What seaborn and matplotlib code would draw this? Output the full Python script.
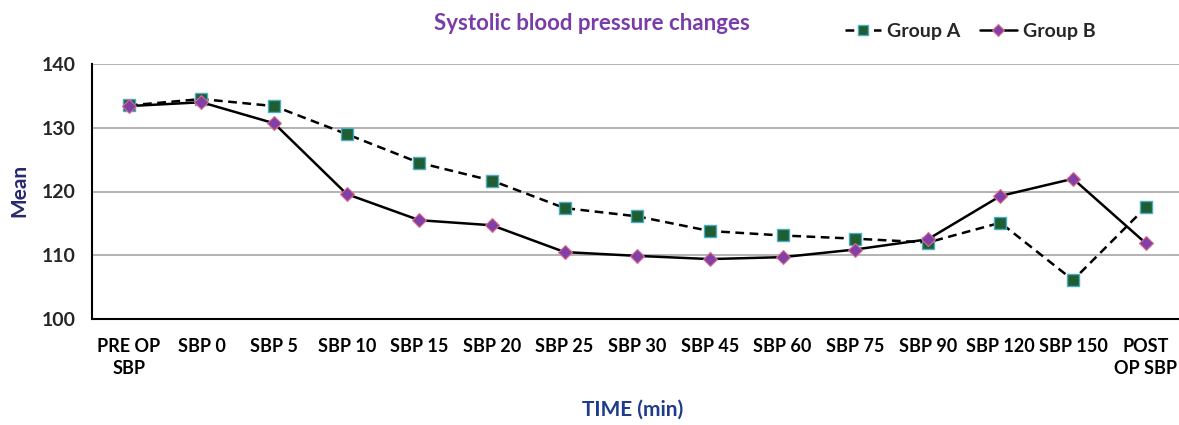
import matplotlib
matplotlib.use("Agg")
import matplotlib.pyplot as plt
from matplotlib.ticker import FixedLocator
import seaborn as sns
import pandas as pd
import numpy as np

categories = ["PRE OP\nSBP", "SBP 0", "SBP 5", "SBP 10", "SBP 15", "SBP 20", "SBP 25",
              "SBP 30", "SBP 45", "SBP 60", "SBP 75", "SBP 90", "SBP 120", "SBP 150",
              "POST\nOP SBP"]
group_a = [133.5, 134.5, 133.4, 129.0, 124.5, 121.7, 117.4, 116.1, 113.8, 113.1,
           112.6, 112.0, 115.1, 106.1, 117.5]
group_b = [133.4, 134.0, 130.7, 119.6, 115.5, 114.7, 110.5, 109.9, 109.4, 109.7,
           110.9, 112.5, 119.3, 122.0, 111.9]

sns.set_theme(style="white")
plt.rcParams['font.family'] = ['Lato', 'DejaVu Sans']
plt.rcParams['font.weight'] = 'bold'

fig = plt.figure(figsize=(11.79, 4.25), dpi=100)
ax = fig.add_axes([92.5/1179, 106/425, (1182-92.5)/1179, 255/425])

idx = np.arange(len(categories))
df = pd.DataFrame({"idx": np.concatenate([idx, idx]),
                   "val": group_a + group_b,
                   "grp": ["Group A"]*len(idx) + ["Group B"]*len(idx)})

sns.lineplot(data=df[df.grp == "Group A"], x="idx", y="val", ax=ax, color="black",
             linestyle=(0, (3.5, 2.2)), lw=1.8, marker="s", markersize=9,
             markerfacecolor="#1E5E30", markeredgecolor="#4BACC6", markeredgewidth=1.0,
             label="Group A", sort=False, legend=False)
sns.lineplot(data=df[df.grp == "Group B"], x="idx", y="val", ax=ax, color="black",
             linestyle="-", lw=1.8, marker="D", markersize=7.5,
             markerfacecolor="#8040A8", markeredgecolor="#E06A88", markeredgewidth=0.8,
             label="Group B", sort=False, legend=False)

ax.set_xlim(-0.5, len(categories) - 0.5)
ax.set_ylim(100, 140)
ax.set_yticks([100, 110, 120, 130, 140])
ax.yaxis.grid(True, color="#A6A6A6", lw=1.2)
ax.set_axisbelow(True)
ax.set_xticks(idx)
ax.set_xticklabels(categories, fontsize=13, fontweight="bold", color="black",
                   multialignment="center", linespacing=1.35)
ax.xaxis.set_minor_locator(FixedLocator(np.arange(-0.5, len(categories), 1.0)))
ax.tick_params(axis="x", which="major", length=0, pad=14)
ax.tick_params(axis="x", which="minor", length=5, width=1, color="black", direction="out")
ax.tick_params(axis="y", length=6, width=1, color="black", direction="out", pad=6,
               labelsize=14)
for lab in ax.get_yticklabels():
    lab.set_fontweight("bold")
for s in ["top", "right"]:
    ax.spines[s].set_visible(False)
for s in ["left", "bottom"]:
    ax.spines[s].set_color("black")
    ax.spines[s].set_linewidth(1.5)

ax.set_xlabel("")
ax.set_ylabel("")
fig.text(19/1179, 1 - 190/425, "Mean", rotation=90, ha="center", va="center",
         fontsize=15, fontweight="bold", color="#28286E")
fig.text(633/1179, 1 - 410/425, "TIME (min)", ha="center", va="center",
         fontsize=15, fontweight="bold", color="#1F3C8C")
fig.text(592/1179, 1 - 23/425, "Systolic blood pressure changes", ha="center", va="center",
         fontsize=16, fontweight="bold", color="#7A3CA8")

handles, labels = ax.get_legend_handles_labels()
leg = fig.legend(handles, labels, loc="center", bbox_to_anchor=(970/1179, 1 - 31/425),
                 ncol=2, frameon=False, fontsize=14, handlelength=1.9,
                 columnspacing=1.0, handletextpad=0.3, markerscale=0.85)
for t in leg.get_texts():
    t.set_fontweight("bold")

fig.savefig("out.png", dpi=100)
